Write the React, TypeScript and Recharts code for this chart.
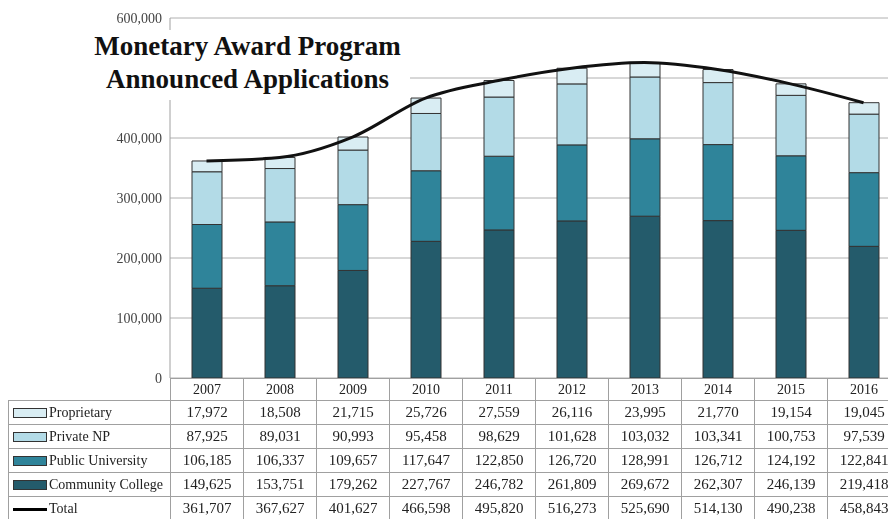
import React from "react";
import { ComposedChart, Bar, Line, XAxis, YAxis, CartesianGrid } from "recharts";

const years = ["2007", "2008", "2009", "2010", "2011", "2012", "2013", "2014", "2015", "2016"];
const proprietary = [17972, 18508, 21715, 25726, 27559, 26116, 23995, 21770, 19154, 19045];
const privateNP = [87925, 89031, 90993, 95458, 98629, 101628, 103032, 103341, 100753, 97539];
const publicUniv = [106185, 106337, 109657, 117647, 122850, 126720, 128991, 126712, 124192, 122841];
const communityCollege = [149625, 153751, 179262, 227767, 246782, 261809, 269672, 262307, 246139, 219418];
const totals = [361707, 367627, 401627, 466598, 495820, 516273, 525690, 514130, 490238, 458843];
const yTicks = [0, 100000, 200000, 300000, 400000, 500000, 600000];
// the 500,000 label sits under the title box in the original, so it is not shown
const hiddenTickLabels = [500000];

const COLORS = {
  proprietary: "#d9edf3",
  privateNP: "#b3dbe7",
  publicUniv: "#2f849a",
  communityCollege: "#245b6b",
};

const FONT = '"Liberation Serif", "DejaVu Serif", serif';

const data = years.map((y, i) => ({
  year: y,
  proprietary: proprietary[i],
  privateNP: privateNP[i],
  publicUniv: publicUniv[i],
  communityCollege: communityCollege[i],
  total: totals[i],
}));

const rows = [
  { label: "Proprietary", values: proprietary, color: COLORS.proprietary },
  { label: "Private NP", values: privateNP, color: COLORS.privateNP },
  { label: "Public University", values: publicUniv, color: COLORS.publicUniv },
  { label: "Community College", values: communityCollege, color: COLORS.communityCollege },
  { label: "Total", values: totals, color: null },
];

const LEFT = 162;
const COL = 73;
const W = LEFT + COL * years.length;
const PLOT_H = 360;
const fmt = (v: number) => v.toLocaleString("en-US");
const border = "1px solid #a0a0a0";

export default function App() {
  return (
    // the original is cropped on the right and bottom; fixed box avoids scrollbars
    <div style={{ position: "fixed", left: 8, top: 8, width: 880, height: 511, overflow: "hidden" }}>
      <div style={{ position: "relative", width: W, height: 511, fontFamily: FONT }}>
        <ComposedChart
          width={W}
          height={PLOT_H + 30}
          data={data}
          margin={{ top: 10, right: 0, bottom: 20, left: 0 }}
        >
          <CartesianGrid vertical={false} stroke="#b0b0b0" />
          <XAxis dataKey="year" hide />
          <YAxis
            width={LEFT}
            domain={[0, 600000]}
            ticks={yTicks}
            tickFormatter={(v: number) => (hiddenTickLabels.includes(v) ? "" : fmt(v))}
            tickLine={false}
            tickSize={6}
            stroke="#a0a0a0"
            tick={{ fill: "#444", fontSize: 14, fontFamily: FONT }}
          />
          <Bar dataKey="communityCollege" stackId="a" fill={COLORS.communityCollege} stroke="#333" barSize={30} isAnimationActive={false} />
          <Bar dataKey="publicUniv" stackId="a" fill={COLORS.publicUniv} stroke="#333" barSize={30} isAnimationActive={false} />
          <Bar dataKey="privateNP" stackId="a" fill={COLORS.privateNP} stroke="#333" barSize={30} isAnimationActive={false} />
          <Bar dataKey="proprietary" stackId="a" fill={COLORS.proprietary} stroke="#333" barSize={30} isAnimationActive={false} />
          <Line type="monotone" dataKey="total" stroke="#111" strokeWidth={3} dot={false} isAnimationActive={false} />
        </ComposedChart>

        <div
          style={{
            position: "absolute",
            left: 77,
            top: 22,
            width: 325,
            height: 70,
            background: "#fff",
            textAlign: "center",
            fontWeight: "bold",
            fontSize: 27,
            lineHeight: "33px",
            color: "#111",
          }}
        >
          Monetary Award Program
          <br />
          Announced Applications
        </div>

        <table
          style={{
            position: "absolute",
            left: 0,
            top: 10 + PLOT_H,
            width: W,
            borderCollapse: "collapse",
            tableLayout: "fixed",
            fontSize: 15,
            color: "#222",
          }}
        >
          <colgroup>
            <col style={{ width: LEFT }} />
            {years.map((y) => (
              <col key={y} style={{ width: COL }} />
            ))}
          </colgroup>
          <tbody>
            <tr style={{ height: 22 }}>
              <td style={{ padding: 0 }} />
              {years.map((y) => (
                <td key={y} style={{ borderLeft: border, borderRight: border, borderTop: border, textAlign: "center", padding: 0, fontSize: 14 }}>
                  {y}
                </td>
              ))}
            </tr>
            {rows.map((r) => (
              <tr key={r.label} style={{ height: 24 }}>
                <td style={{ border, padding: "0 0 0 4px", whiteSpace: "nowrap", fontSize: 14 }}>
                  {r.color ? (
                    <span
                      style={{
                        display: "inline-block",
                        width: 32,
                        height: 8,
                        background: r.color,
                        border: "1px solid #333",
                        marginRight: 2,
                        verticalAlign: "middle",
                      }}
                    />
                  ) : (
                    <span
                      style={{
                        display: "inline-block",
                        width: 34,
                        height: 3,
                        background: "#000",
                        marginRight: 2,
                        verticalAlign: "middle",
                      }}
                    />
                  )}
                  {r.label}
                </td>
                {r.values.map((v, i) => (
                  <td key={i} style={{ border, textAlign: "center", padding: 0 }}>
                    {fmt(v)}
                  </td>
                ))}
              </tr>
            ))}
          </tbody>
        </table>
      </div>
    </div>
  );
}
